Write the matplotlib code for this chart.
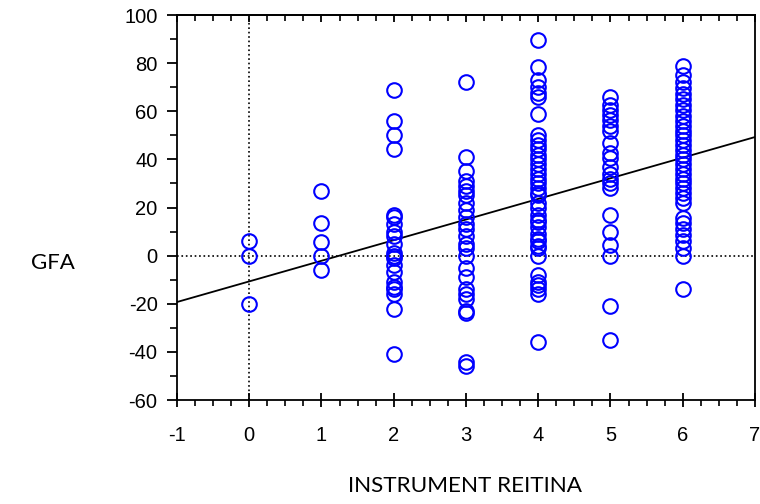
import numpy as np
import matplotlib
matplotlib.use('Agg')
import matplotlib.pyplot as plt
from matplotlib.ticker import MultipleLocator, NullFormatter

plt.rcParams['font.family'] = ['Liberation Sans', 'DejaVu Sans']
plt.rcParams['axes.unicode_minus'] = False

# GFA scores grouped by instrument score (0..6)
scores = [0, 1, 2, 3, 4, 5, 6]
gfa_0 = [6, 0, -20]
gfa_1 = [27, 13.5, 5.5, 0, -6]
gfa_2 = [69, 56, 50, 44.5, 17, 16, 13, 10, 8, 5, 1, 0, -1, -4, -7, -11, -13, -14, -16, -22, -41]
gfa_3 = [72, 41, 35, 31, 29, 27, 25, 22, 19, 16, 13, 11, 8, 5, 3, 0, -5, -9, -14, -16, -18,
         -23, -24, -44, -46]
gfa_4 = [89.5, 78.5, 73, 70, 67.5, 66, 59, 50, 48, 46, 44.5, 42, 40, 38, 36, 34, 32, 30, 28, 26,
         25, 22, 20, 17, 15, 14, 12, 9, 7, 6, 4, 3, 0, -8, -11, -12, -14, -16, -36]
gfa_5 = [66, 62.5, 60.5, 58.5, 56.5, 54, 52, 47, 42.5, 40.5, 37, 34, 32, 30, 28, 17, 10, 4.5, 0,
         -21, -35]
gfa_6 = [79, 75, 72, 69.5, 67, 65, 62.5, 60.5, 58, 56, 54, 52, 50, 48, 46, 44, 42, 40, 38, 36,
         34, 32, 30, 28, 26, 24, 22, 15.5, 13.5, 11, 8.5, 6, 3, 0, -14]
groups = [gfa_0, gfa_1, gfa_2, gfa_3, gfa_4, gfa_5, gfa_6]

# fitted regression line
fit_intercept = -10.7
fit_slope = 8.57

x_vals = np.concatenate([[s] * len(g) for s, g in zip(scores, groups)])
y_vals = np.concatenate(groups)

fig = plt.figure(figsize=(7.6, 5.04), dpi=100)
ax = fig.add_axes([0.2329, 0.2063, 0.7605, 0.7639])

ax.axvline(0, color='black', linestyle=':', linewidth=1.2, zorder=1)
ax.axhline(0, color='black', linestyle=':', linewidth=1.2, zorder=1)

xs = np.array([-1, 7])
ax.plot(xs, fit_intercept + fit_slope * xs, color='black', linewidth=1.3, zorder=2)

ax.plot(x_vals, y_vals, linestyle='none', marker='o', markersize=10.5,
        markerfacecolor='none', markeredgecolor='#0000ff', markeredgewidth=1.5, zorder=3)

ax.set_xlim(-1, 7)
ax.set_ylim(-60, 100)
ax.xaxis.set_major_locator(MultipleLocator(1))
ax.xaxis.set_minor_locator(MultipleLocator(0.25))
ax.yaxis.set_major_locator(MultipleLocator(20))
ax.yaxis.set_minor_locator(MultipleLocator(10))

for sp in ax.spines.values():
    sp.set_linewidth(1.3)

ax.tick_params(axis='x', which='major', direction='inout', length=10, width=1.3,
               labelsize=14.5, pad=14)
ax.tick_params(axis='x', which='minor', direction='out', length=4, width=1.2)
ax.tick_params(axis='y', which='major', direction='out', length=7, width=1.3, labelsize=14.5,
               pad=7)
ax.tick_params(axis='y', which='minor', direction='out', length=5, width=1.2)

# inward ticks along the top edge
top = ax.secondary_xaxis('top')
top.xaxis.set_major_locator(MultipleLocator(1))
top.xaxis.set_minor_locator(MultipleLocator(0.25))
top.xaxis.set_major_formatter(NullFormatter())
top.tick_params(which='major', direction='in', length=5, width=1.3)
top.tick_params(which='minor', direction='in', length=4, width=1.2)
top.spines['top'].set_linewidth(1.3)

fig.text(0.069, 0.478, 'GFA', family='Lato', fontsize=16, ha='center', va='center')
fig.text(0.612, 0.035, 'INSTRUMENT REITINA', family='Lato', fontsize=16.2, ha='center',
         va='center')

fig.savefig('out.png', dpi=100)
